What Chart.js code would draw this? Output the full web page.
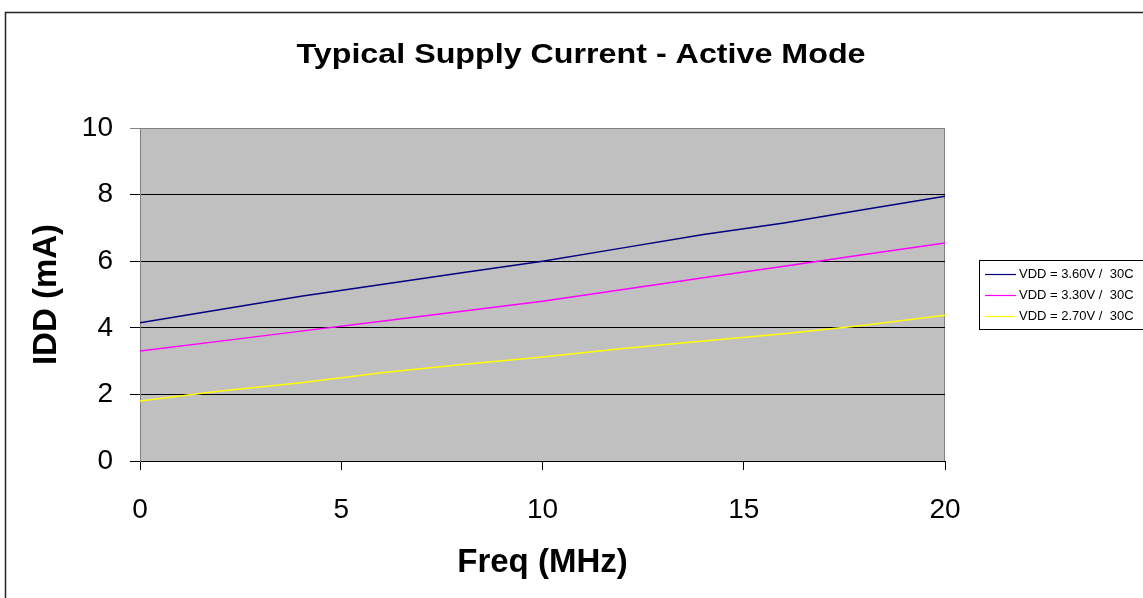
<!DOCTYPE html>
<html>
<head>
<meta charset="utf-8">
<script src="https://cdn.jsdelivr.net/npm/chart.js@4.4.0/dist/chart.umd.min.js"></script>
<style>
  html, body { margin: 0; padding: 0; background: #fff; overflow: hidden; }
  #wrap { width: 1143px; height: 598px; position: relative; }
</style>
</head>
<body>
<div id="wrap"><canvas id="supplyChart"></canvas></div>
<script>
// frequency points (MHz)
var freq = [0, 2, 4, 6, 8, 10, 12, 14, 16, 18, 20];
// IDD (mA)
var idd360 = [4.15, 4.55, 4.95, 5.3, 5.65, 6.0, 6.4, 6.8, 7.15, 7.55, 7.95];
var idd330 = [3.3, 3.6, 3.9, 4.2, 4.5, 4.8, 5.15, 5.5, 5.85, 6.2, 6.55];
var idd270 = [1.8, 2.1, 2.35, 2.65, 2.9, 3.12, 3.38, 3.6, 3.82, 4.08, 4.38];
var seriesLabels = ['VDD = 3.60V /  30C', 'VDD = 3.30V /  30C', 'VDD = 2.70V /  30C'];
var seriesColors = ['#000080', '#ff00ff', '#ffff00'];
var yTicks = [0, 2, 4, 6, 8, 10];
var xTicks = [0, 5, 10, 15, 20];

function toPoints(vals) {
    var pts = [];
    for (i = 0; i < freq.length; i++) {
        pts.push({ x: freq[i], y: vals[i] });
    }
    return pts;
}

var FONT = 'Arial, "Liberation Sans", sans-serif';

// grey plot area, outer frame, title and the clipped legend
var decor = {
    id: 'decor',
    beforeDraw: function (chart) {
        var c = chart.ctx, a = chart.chartArea;
        c.save();
        c.fillStyle = '#c0c0c0';
        c.fillRect(a.left, a.top, a.right - a.left, a.bottom - a.top);
        c.strokeStyle = '#808080';
        c.lineWidth = 1;
        c.strokeRect(a.left + 0.5, a.top + 0.5, a.right - a.left - 1, a.bottom - a.top);
        c.restore();
    },
    afterDraw: function (chart) {
        var c = chart.ctx;
        c.save();
        // outer frame (runs off the right and bottom edges)
        c.strokeStyle = '#222';
        c.lineWidth = 1.5;
        c.strokeRect(5.5, 12.5, 2000, 2000);
        // title, stretched a little to the reference width
        c.fillStyle = '#000';
        c.font = 'bold 28px ' + FONT;
        c.textAlign = 'center';
        c.textBaseline = 'middle';
        var txt = 'Typical Supply Current - Active Mode';
        var sx = 569 / c.measureText(txt).width;
        c.save();
        c.translate(581, 55);
        c.scale(sx, 1);
        c.fillText(txt, 0, 0);
        c.restore();
        // legend
        c.fillStyle = '#fff';
        c.fillRect(979, 260, 300, 69);
        c.strokeStyle = '#000';
        c.lineWidth = 1;
        c.strokeRect(979.5, 260.5, 300, 69);
        c.font = '13px ' + FONT;
        c.textAlign = 'left';
        var rows = [274, 295, 316];
        chart.data.datasets.forEach(function (ds, k) {
            c.strokeStyle = ds.borderColor;
            c.lineWidth = 1.2;
            c.beginPath();
            c.moveTo(985, rows[k] + 0.5);
            c.lineTo(1016, rows[k] + 0.5);
            c.stroke();
            c.fillStyle = '#000';
            c.fillText(ds.label, 1019, rows[k]);
        });
        c.restore();
    }
};

var ctx = document.getElementById('supplyChart').getContext('2d');
var myChart = new Chart(ctx, {
    type: 'line',
    data: {
        datasets: [
            { label: seriesLabels[0], data: toPoints(idd360), borderColor: seriesColors[0], borderWidth: 1.5, pointRadius: 0, tension: 0 },
            { label: seriesLabels[1], data: toPoints(idd330), borderColor: seriesColors[1], borderWidth: 1.5, pointRadius: 0, tension: 0 },
            { label: seriesLabels[2], data: toPoints(idd270), borderColor: seriesColors[2], borderWidth: 1.5, pointRadius: 0, tension: 0 }
        ]
    },
    options: {
        responsive: true,
        maintainAspectRatio: false,
        animation: false,
        layout: { padding: { left: 27, right: 198, top: 128, bottom: 15 } },
        plugins: {
            legend: { display: false },
            title: { display: false },
            tooltip: { enabled: false }
        },
        scales: {
            x: {
                type: 'linear',
                min: 0,
                max: 20,
                afterFit: function (s) { s.height = 122; },
                afterBuildTicks: function (s) { s.ticks = xTicks.map(function (v) { return { value: v }; }); },
                ticks: { color: '#000', font: { family: FONT, size: 28 }, padding: 23, maxRotation: 0 },
                grid: { drawOnChartArea: false, color: '#000', tickLength: 9 },
                border: { color: '#000', width: 1 },
                title: { display: true, text: 'Freq (MHz)', color: '#000', font: { family: FONT, size: 33, weight: 'bold' }, padding: 0 }
            },
            y: {
                min: 0,
                max: 10,
                afterFit: function (s) { s.width = 113; },
                afterBuildTicks: function (s) { s.ticks = yTicks.map(function (v) { return { value: v }; }); },
                ticks: { color: '#000', font: { family: FONT, size: 28 }, padding: 17 },
                grid: {
                    color: function (c) { return c.tick && c.tick.value === 10 ? '#808080' : '#000'; },
                    tickLength: 10
                },
                border: { color: '#808080', width: 1 },
                title: { display: true, text: 'IDD (mA)', color: '#000', font: { family: FONT, size: 33, weight: 'bold' }, padding: 0 }
            }
        }
    },
    plugins: [decor]
});
</script>
</body>
</html>
